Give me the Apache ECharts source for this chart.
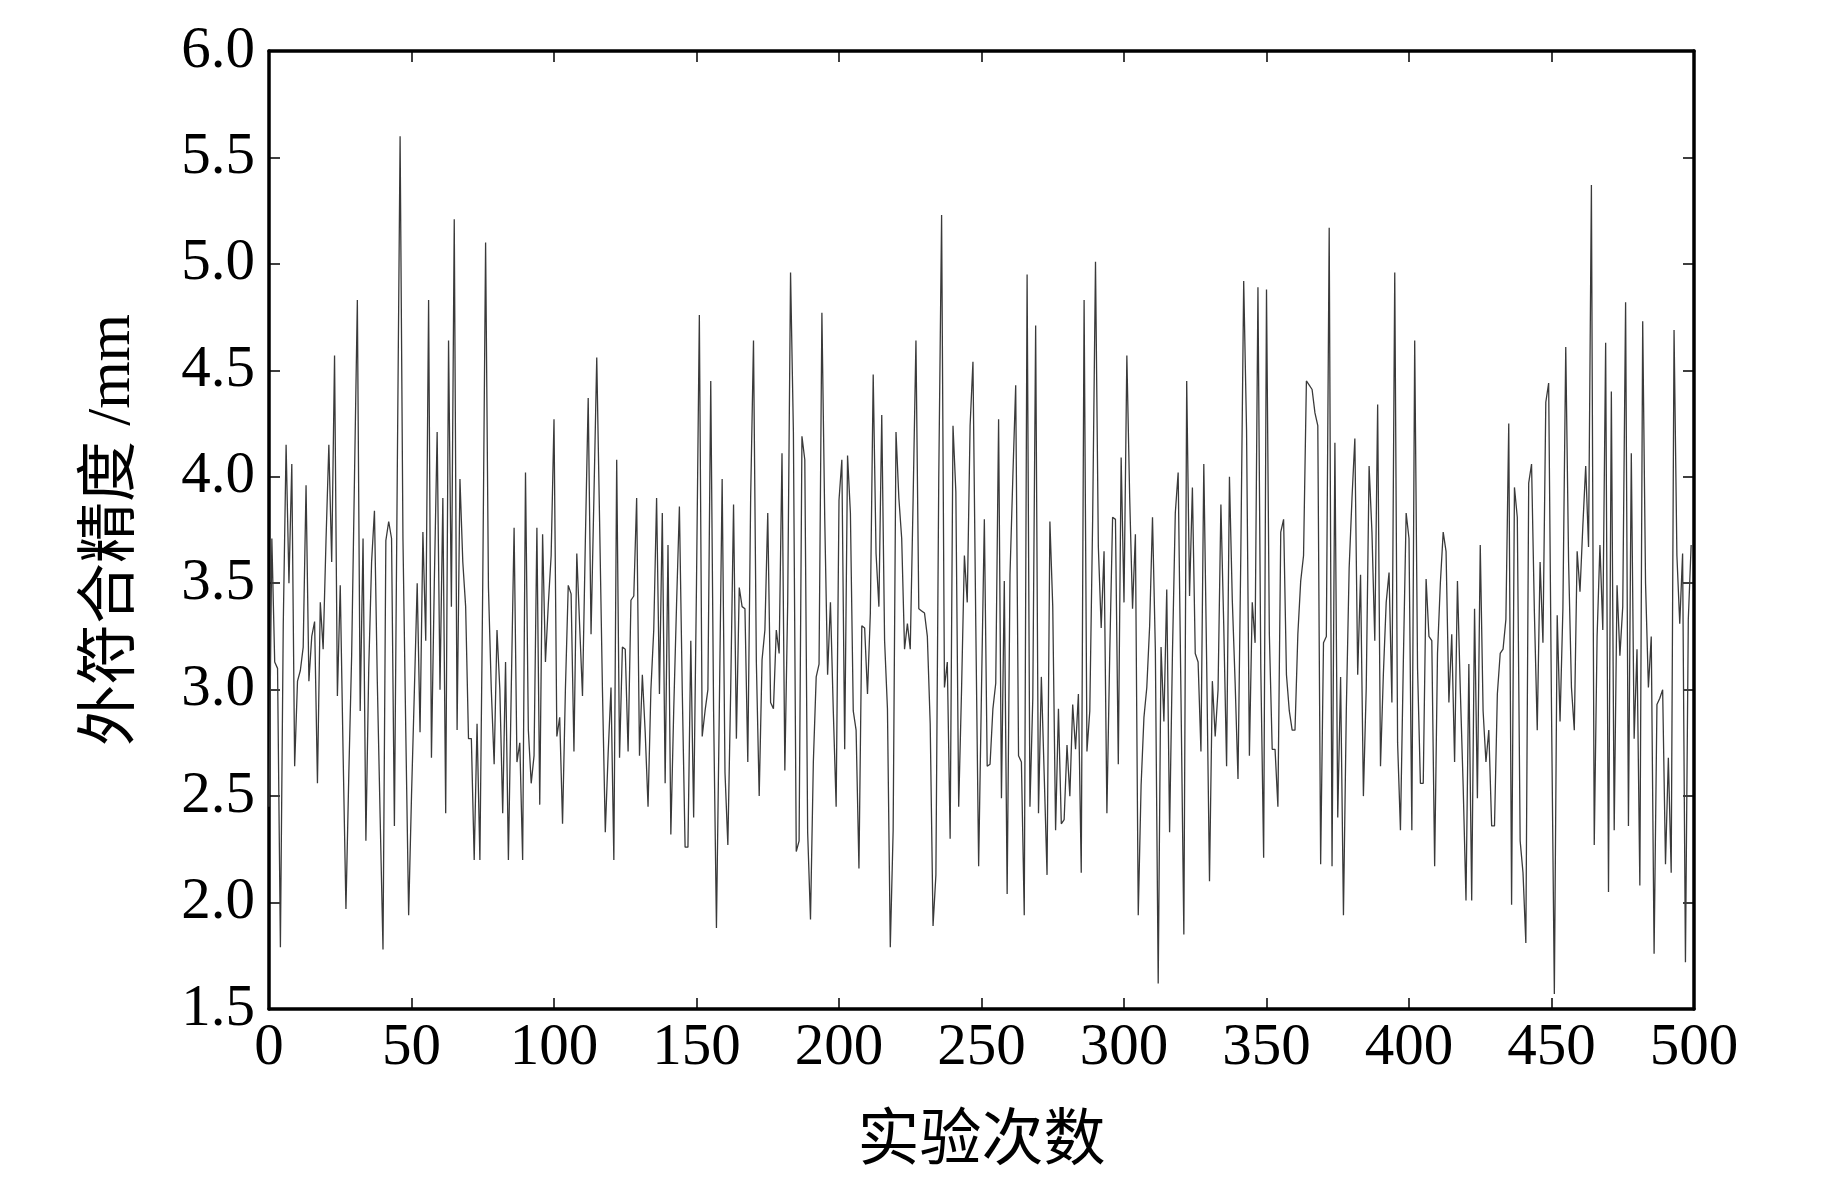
<!DOCTYPE html>
<html>
<head>
<meta charset="utf-8">
<script src="https://cdn.jsdelivr.net/npm/echarts@6/dist/echarts.min.js"></script>
<style>
html,body{margin:0;padding:0;background:#fff;}
#chart{width:1843px;height:1181px;}
</style>
</head>
<body>
<div id="chart"></div>
<script>
var vals000 = [2.45,3.71,3.13,3.10,1.79,3.3,4.15,3.5,4.06,2.64,3.04,3.09,3.2,3.96,3.04,3.25,3.32,2.56,3.41,3.19,
3.7,4.15,3.6,4.57,2.97,3.49,2.7,1.97,2.6,3.16,4.0,4.83,2.9,3.71,2.29,3.1,3.6,3.84,3.04,2.4,
1.78,3.7,3.79,3.71,2.36,4.0,5.6,3.71,2.8,1.94,2.5,2.99,3.5,2.8,3.74,3.23,4.83,2.68,3.5,4.21,
3.0,3.9,2.42,4.64,3.39,5.21,2.81,3.99,3.6,3.39,2.77,2.77,2.2,2.84,2.2,3.5,5.1,3.48,3.0,2.65,
3.28,3.0,2.42,3.13,2.2,3.0,3.76,2.66,2.75,2.2,4.02,2.81,2.56,2.69,3.76,2.46,3.73,3.13,3.4,3.63];
var vals100 = [4.27,2.78,2.87,2.37,3.0,3.49,3.45,2.71,3.64,3.3,2.97,3.7,4.37,3.26,3.9,4.56,3.79,3.0,2.33,2.7,
3.01,2.2,4.08,2.68,3.2,3.19,2.71,3.42,3.44,3.9,2.69,3.07,2.8,2.45,3.0,3.28,3.9,2.98,3.83,2.56,
3.68,2.32,2.9,3.4,3.86,3.0,2.26,2.26,3.23,2.4,3.5,4.76,2.78,2.9,3.0,4.45,2.9,1.88,2.9,3.99,
2.61,2.27,3.0,3.87,2.77,3.48,3.39,3.38,2.66,3.9,4.64,3.13,2.5,3.14,3.28,3.83,2.94,2.91,3.28,3.17,
4.11,2.62,3.41,4.96,4.21,2.24,2.29,4.19,4.08,2.33,1.92,2.66,3.06,3.12,4.77,3.8,3.07,3.41,2.9,2.45];
var vals200 = [3.89,4.08,2.72,4.1,3.83,2.9,2.81,2.16,3.3,3.29,2.98,3.36,4.48,3.64,3.39,4.29,3.23,2.91,1.79,2.34,
4.21,3.9,3.71,3.19,3.31,3.19,3.89,4.64,3.38,3.37,3.36,3.25,2.84,1.89,2.13,3.99,5.23,3.01,3.13,2.3,
4.24,3.93,2.45,3.0,3.63,3.41,4.24,4.54,3.3,2.17,3.0,3.8,2.64,2.65,2.91,3.03,4.27,2.49,3.51,2.04,
3.54,4.0,4.43,2.69,2.66,1.94,4.95,2.45,2.96,4.71,2.42,3.06,2.6,2.13,3.79,3.39,2.34,2.91,2.37,2.39,
2.74,2.5,2.93,2.72,2.98,2.14,4.83,2.71,2.9,3.8,5.01,3.67,3.29,3.65,2.42,3.17,3.81,3.8,2.65,4.09];
var vals300 = [3.41,4.57,3.9,3.38,3.73,1.94,2.55,2.87,3.01,3.3,3.81,3.19,1.62,3.2,2.85,3.47,2.33,3.17,3.83,4.02,
2.96,1.85,4.45,3.44,3.95,3.17,3.13,2.71,4.06,3.13,2.1,3.04,2.78,3.0,3.87,3.3,2.64,4.0,3.42,3.03,
2.58,3.65,4.92,4.22,2.69,3.41,3.22,4.89,3.1,2.21,4.88,3.26,2.72,2.72,2.45,3.74,3.8,3.07,2.9,2.81,
2.81,3.26,3.51,3.63,4.45,4.43,4.41,4.3,4.24,2.18,3.22,3.25,5.17,2.17,4.16,2.4,3.06,1.94,2.9,3.57,
3.9,4.18,3.07,3.54,2.5,3.01,4.05,3.74,3.23,4.34,2.64,3.07,3.41,3.55,2.94,4.96,2.75,2.34,3.12,3.83];
var vals400 = [3.71,2.34,4.64,3.1,2.56,2.56,3.52,3.25,3.23,2.17,3.17,3.5,3.74,3.65,2.94,3.26,2.66,3.51,3.0,2.55,
2.01,3.12,2.01,3.38,2.49,3.68,2.9,2.66,2.81,2.36,2.36,2.98,3.17,3.19,3.33,4.25,1.99,3.95,3.81,2.29,
2.14,1.81,3.97,4.06,3.36,2.81,3.6,3.22,4.35,4.44,2.91,1.57,3.35,2.85,3.38,4.61,3.6,3.01,2.81,3.65,
3.46,3.77,4.05,3.67,5.37,2.27,3.25,3.68,3.28,4.63,2.05,4.4,2.34,3.49,3.16,3.39,4.82,2.36,4.11,2.77,
3.19,2.08,4.73,3.5,3.01,3.25,1.76,2.93,2.96,3.0,2.18,2.68,2.14,4.69,3.63,3.31,3.64,1.72,3.33,3.68];

var xTicks = [0,50,100,150,200,250,300,350,400,450,500];
var yTicks = [1.5,2.0,2.5,3.0,3.5,4.0,4.5,5.0,5.5,6.0];
var xName = '实验次数';
var yName = '外符合精度 /mm';

var allVals = vals000.concat(vals100, vals200, vals300, vals400);
var seriesData = allVals.map(function (v, i) { return [i, v]; });

var FONT = "'Liberation Serif', 'Times New Roman', 'Noto Sans CJK SC', serif";
var chart = echarts.init(document.getElementById('chart'), null, {renderer: 'canvas'});

function frameAxis(extra) {
  return Object.assign({
    axisLine: {show: true, onZero: false, lineStyle: {color: '#000', width: 3.5}},
    axisTick: {show: true, inside: true, length: 11, lineStyle: {color: '#000', width: 1.5}},
    splitLine: {show: false}
  }, extra);
}

chart.setOption({
  animation: false,
  backgroundColor: '#fff',
  grid: {left: 269, top: 51, width: 1425, height: 958, containLabel: false},
  xAxis: [
    frameAxis({
      type: 'value', position: 'bottom',
      min: xTicks[0], max: xTicks[xTicks.length - 1], interval: 50,
      name: xName, nameLocation: 'middle', nameGap: 104,
      nameTextStyle: {fontFamily: FONT, fontSize: 62, color: '#000'},
      axisLabel: {fontFamily: FONT, fontSize: 59, color: '#000', margin: 10}
    }),
    frameAxis({
      type: 'value', position: 'top',
      min: xTicks[0], max: xTicks[xTicks.length - 1], interval: 50,
      axisLabel: {show: false}
    })
  ],
  yAxis: [
    frameAxis({
      type: 'value', position: 'left',
      min: yTicks[0], max: yTicks[yTicks.length - 1], interval: 0.5,
      name: yName, nameLocation: 'middle', nameGap: 126, nameRotate: 90,
      nameTextStyle: {fontFamily: FONT, fontSize: 61, color: '#000'},
      axisLabel: {fontFamily: FONT, fontSize: 59, color: '#000', margin: 14,
        formatter: function (v) { return v.toFixed(1); }}
    }),
    frameAxis({
      type: 'value', position: 'right',
      min: yTicks[0], max: yTicks[yTicks.length - 1], interval: 0.5,
      axisLabel: {show: false}
    })
  ],
  series: [{
    type: 'line',
    data: seriesData,
    showSymbol: false,
    symbol: 'none',
    lineStyle: {color: '#3a3a3a', width: 1.3},
    xAxisIndex: 0, yAxisIndex: 0
  }]
});
</script>
</body>
</html>
